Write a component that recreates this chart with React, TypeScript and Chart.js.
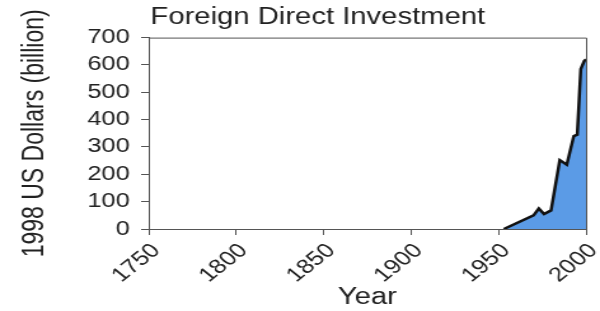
import React, { useEffect, useRef } from "react";
import { Chart, registerables } from "chart.js";

Chart.register(...registerables);

const years = [1953, 1970, 1973, 1976, 1980, 1985, 1989, 1993, 1995, 1997, 1999, 2000];
const fdiValues = [0, 50, 75, 55, 68, 252, 235, 340, 345, 585, 615, 620];
const xTicks = [1750, 1800, 1850, 1900, 1950, 2000];
const yTicks = [0, 100, 200, 300, 400, 500, 600, 700];

const FONT = "'Liberation Sans', Arial, Helvetica, sans-serif";
const CANVAS_W = 472;
const CANVAS_H = 311;

const boxPlugin = {
  id: "box",
  afterDraw(chart: any) {
    const { ctx, chartArea } = chart;
    ctx.save();
    ctx.strokeStyle = "#555";
    ctx.lineWidth = 1;
    ctx.beginPath();
    ctx.moveTo(chartArea.left, chartArea.top + 0.5);
    ctx.lineTo(chartArea.right + 0.5, chartArea.top + 0.5);
    ctx.lineTo(chartArea.right + 0.5, chartArea.bottom);
    ctx.stroke();
    ctx.restore();
  },
};

export default function App() {
  const ref = useRef<HTMLCanvasElement | null>(null);
  useEffect(() => {
    document.body.style.margin = "0";
    const chart = new Chart(ref.current!, {
      type: "line",
      data: {
        datasets: [
          {
            data: years.map((y, i) => ({ x: y, y: fdiValues[i] })),
            borderColor: "#111",
            borderWidth: 2.5,
            backgroundColor: "#5b9be6",
            fill: "origin",
            pointRadius: 0,
            tension: 0,
          },
        ],
      },
      options: {
        animation: false,
        responsive: false,
        maintainAspectRatio: false,
        devicePixelRatio: 1,
        layout: { padding: { left: 39, right: 11, top: 0, bottom: 0 } },
        plugins: {
          legend: { display: false },
          tooltip: { enabled: false },
          title: {
            display: true,
            text: "Foreign Direct Investment",
            color: "#222",
            font: { family: FONT, size: 23, weight: "normal", lineHeight: 1.2 },
            padding: { top: 4, bottom: 6 },
          },
        },
        scales: {
          x: {
            type: "linear",
            min: 1750,
            max: 2000,
            afterBuildTicks: (axis: any) => {
              axis.ticks = xTicks.map((v) => ({ value: v }));
            },
            afterFit: (axis: any) => {
              axis.height = 82;
              axis.paddingLeft = 0;
              axis.paddingRight = 0;
            },
            ticks: {
              color: "#222",
              font: { family: FONT, size: 20 },
              maxRotation: 45,
              minRotation: 45,
              padding: 4,
              labelOffset: 6,
              callback: (v: any) => String(v),
            },
            grid: { drawOnChartArea: false, drawTicks: true, tickLength: 6, color: "#555" },
            border: { display: true, color: "#555", width: 1 },
            title: {
              display: true,
              text: "Year",
              color: "#222",
              font: { family: FONT, size: 23, lineHeight: 1.2 },
              padding: { top: 0, bottom: 0 },
            },
          },
          y: {
            type: "linear",
            min: 0,
            max: 700,
            afterBuildTicks: (axis: any) => {
              axis.ticks = yTicks.map((v) => ({ value: v }));
            },
            afterFit: (axis: any) => {
              axis.width = 78;
              axis.paddingTop = 0;
              axis.paddingBottom = 0;
            },
            ticks: {
              color: "#222",
              font: { family: FONT, size: 20 },
              padding: 9,
            },
            grid: { drawOnChartArea: false, drawTicks: true, tickLength: 6, color: "#555" },
            border: { display: true, color: "#555", width: 1 },
            title: {
              display: true,
              text: "1998 US Dollars (billion)",
              color: "#222",
              font: { family: FONT, size: 23, lineHeight: 1.2 },
              padding: { top: -25, bottom: 0 },
            },
          },
        },
      },
      plugins: [boxPlugin],
    });
    return () => chart.destroy();
  }, []);
  return (
    <div style={{ width: 600, height: CANVAS_H, background: "#fff" }}>
      <canvas
        ref={ref}
        width={CANVAS_W}
        height={CANVAS_H}
        style={{ width: "600px", height: CANVAS_H + "px", display: "block" }}
      />
    </div>
  );
}
